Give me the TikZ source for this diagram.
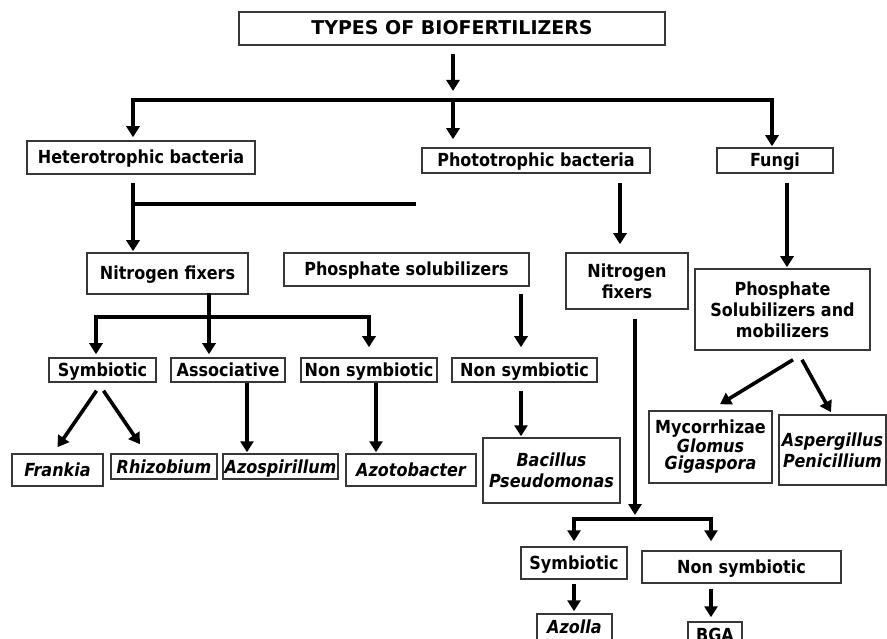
\documentclass[tikz,border=0pt]{standalone}
\usepackage{fontspec}
\setmainfont{DejaVu Sans}
\newfontfamily\boxfont{DejaVu Sans}[FakeStretch=0.89]
\usetikzlibrary{arrows.meta, calc}
\definecolor{boxgray}{RGB}{55,55,55}
\tikzset{
  box/.style   = {draw=boxgray, line width=1.5pt, fill=white, align=center,
                  inner sep=0pt, font=\boxfont\fontsize{18}{21}\selectfont\bfseries},
  genus/.style = {box, font=\boxfont\fontsize{18}{21}\selectfont\bfseries\itshape},
  line/.style  = {text height=17pt, text depth=4pt},
  flow/.style  = {-{Triangle[width=13pt,length=11pt]}, line width=3.6pt},
  bar/.style   = {line width=3.6pt, line cap=rect},
}

\begin{document}
\begin{tikzpicture}[x=1pt, y=-1pt]
  \useasboundingbox (0,0) rectangle (887,639);

  % first level
  \node[box, line, minimum width=426, minimum height=33, font=\fontsize{19}{22}\selectfont\bfseries]
    (title) at (452,28.5) {TYPES OF BIOFERTILIZERS};
  \node[box, line, minimum width=228, minimum height=33] (het)    at (141,157.5) {Heterotrophic bacteria};
  \node[box, line, minimum width=228, minimum height=25] (photo)  at (536,160.5) {Phototrophic bacteria};
  \node[box, line, minimum width=116, minimum height=25] (fungi)  at (775,160.5) {Fungi};

  % second level
  \node[box, line, minimum width=161, minimum height=41] (nfixL)   at (167.5,273.5) {Nitrogen fixers};
  \node[box, line, minimum width=245, minimum height=33] (phossol) at (406.5,269.5) {Phosphate solubilizers};
  \node[box, minimum width=122, minimum height=56] (nfixR)   at (627,281) {Nitrogen\\fixers};
  \node[box, minimum width=175, minimum height=81] (psm)     at (782.5,309.5) {Phosphate\\Solubilizers and\\mobilizers};

  % third level
  \node[box, line, minimum width=107, minimum height=24] (symb)    at (102.5,370) {Symbiotic};
  \node[box, line, minimum width=114, minimum height=24] (assoc)   at (228,370) {Associative};
  \node[box, line, minimum width=136, minimum height=24] (nonsymL) at (369,370) {Non symbiotic};
  \node[box, line, minimum width=145, minimum height=24] (nonsymM) at (524.5,370) {Non symbiotic};

  % organisms
  \node[genus, line, minimum width=91,  minimum height=32] (frankia) at (57.5,470) {Frankia};
  \node[genus, line, minimum width=106, minimum height=25] (rhizo)   at (164,466.5) {Rhizobium};
  \node[genus, line, minimum width=115, minimum height=25] (azosp)   at (280.5,466.5) {Azospirillum};
  \node[genus, line, minimum width=130, minimum height=32] (azoto)   at (411,470) {Azotobacter};
  \node[genus, minimum width=137, minimum height=65] (bacil)   at (551.5,470.5) {Bacillus\\Pseudomonas};
  \node[box, minimum width=123, minimum height=72, font=\boxfont\fontsize{18}{17.5}\selectfont\bfseries]
    (myco) at (710.5,447) {Mycorrhizae\\{\itshape Glomus}\\{\itshape Gigaspora}};
  \node[genus, minimum width=107, minimum height=70] (asperg)  at (832.5,450) {Aspergillus\\Penicillium};

  % blue-green branch
  \node[box, line, minimum width=106, minimum height=32] (symbB)   at (574,563) {Symbiotic};
  \node[box, line, minimum width=199, minimum height=32] (nonsymB) at (741.5,567) {Non symbiotic};
  \node[genus, line, minimum width=75, minimum height=26] (azolla) at (574.5,627) {Azolla};
  \node[box, line, minimum width=54, minimum height=26]   (bga)    at (715,635) {BGA};

  % top split
  \coordinate (jt) at (453,100);
  \coordinate (jl) at (133,100);
  \coordinate (jr) at (772,100);
  \draw[flow, shorten <=8pt, shorten >=9pt] (title.south -| jt) -- (jt);
  \draw[bar] (jl) -- (jr);
  \draw[flow, shorten >=3pt] (jl) -- (jl |- het.north);
  \draw[flow, shorten >=8pt] (jt) -- (jt |- photo.north);
  \draw[flow, shorten >=1pt] (jr) -- (jr |- fungi.north);

  % heterotrophic bacteria
  \coordinate (hj) at (133,204);
  \coordinate (hk) at (414,204);
  \draw[flow, shorten <=8pt, shorten >=1pt] (het.south -| hj) -- (hj |- nfixL.north);
  \draw[bar] (hj) -- (hk);

  \coordinate (nj) at (209,317);
  \coordinate (nl) at (96,317);
  \coordinate (nr) at (369,317);
  \draw[bar] (nfixL.south -| nj) -- (nj);
  \draw[bar] (nl) -- (nr);
  \draw[flow, shorten >=3pt] (nl) -- (nl |- symb.north);
  \draw[flow, shorten >=3pt] (nj) -- (nj |- assoc.north);
  \draw[flow, shorten >=10pt] (nr) -- (nr |- nonsymL.north);

  \draw[flow] ([xshift=-6pt, yshift=-8pt]symb.south) -- ([yshift=6pt]frankia.north);
  \draw[flow] ([xshift=1pt, yshift=-8pt]symb.south) -- ([xshift=-24pt, yshift=9pt]rhizo.north);
  \draw[flow, shorten >=1pt] ([xshift=19pt]assoc.south) -- ([xshift=-33.5pt]azosp.north);
  \draw[flow, shorten >=1pt] ([xshift=7pt]nonsymL.south) -- ([xshift=-35pt]azoto.north);

  \draw[flow, shorten <=7pt, shorten >=10pt] ([xshift=114.5pt]phossol.south) -- ([xshift=-3.5pt]nonsymM.north);
  \draw[flow, shorten <=8pt, shorten >=1pt] ([xshift=-3.5pt]nonsymM.south) -- ([xshift=-30.5pt]bacil.north);

  % phototrophic bacteria
  \draw[flow, shorten <=9pt, shorten >=8pt] ([xshift=84pt]photo.south) -- ([xshift=-7pt]nfixR.north);
  \coordinate (pj) at (635,519);
  \coordinate (pl) at (574,519);
  \coordinate (pr) at (711,519);
  \draw[flow, shorten <=9pt, shorten >=4pt] (nfixR.south -| pj) -- (pj);
  \draw[bar] (pl) -- (pr);
  \draw[flow, shorten >=5pt] (pl) -- (pl |- symbB.north);
  \draw[flow, shorten >=9pt] (pr) -- (pr |- nonsymB.north);
  \draw[flow, shorten <=4pt, shorten >=2pt] (symbB.south) -- (symbB.south |- azolla.north);
  \draw[flow, shorten <=5pt, shorten >=4pt] ([xshift=-30.5pt]nonsymB.south) -- ([xshift=-4pt]bga.north);

  % fungi
  \draw[flow, shorten <=9pt, shorten >=1pt] ([xshift=12pt]fungi.south) -- ([xshift=4.5pt]psm.north);
  \draw[flow] ([xshift=10.5pt, yshift=-9pt]psm.south) -- ([xshift=9.5pt, yshift=6pt]myco.north);
  \draw[flow] ([xshift=19.5pt, yshift=-9pt]psm.south) -- ([xshift=-1.5pt, yshift=2pt]asperg.north);
\end{tikzpicture}
\end{document}
